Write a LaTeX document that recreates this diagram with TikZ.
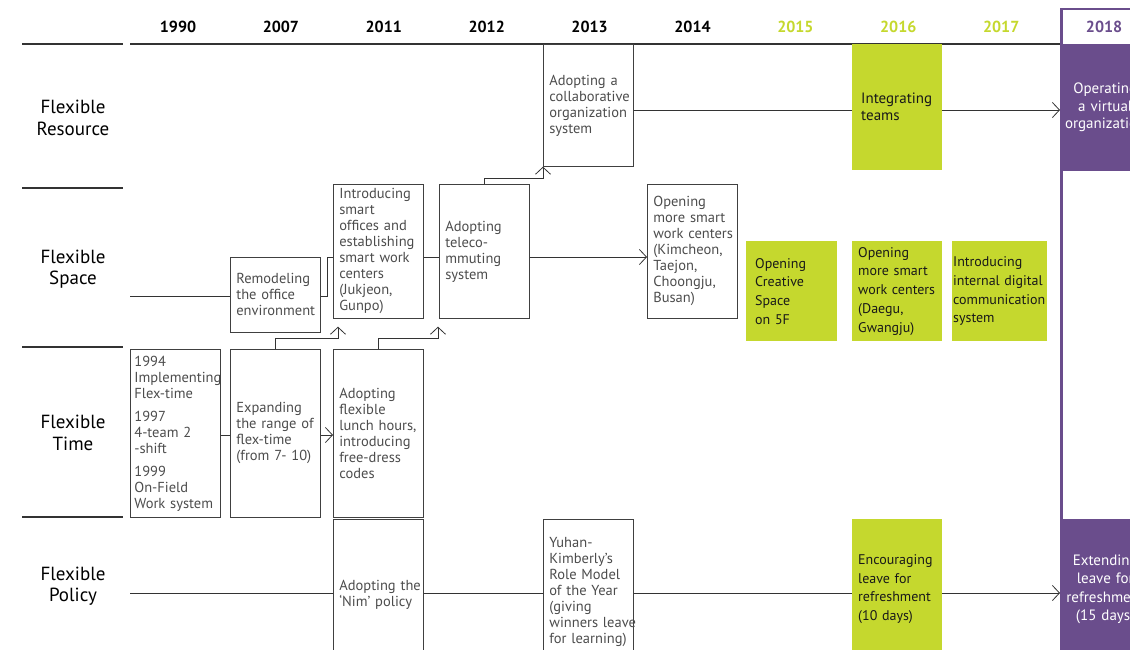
\documentclass[tikz,border=0pt]{standalone}
\usepackage{fontspec}
\setmainfont{PT Sans}
\usetikzlibrary{arrows.meta,calc,positioning}
\definecolor{ykgreen}{HTML}{C5D82E}
\definecolor{ykpurple}{HTML}{6A4D8C}
\hyphenpenalty=10000
\exhyphenpenalty=10000

\begin{document}
\begin{tikzpicture}[x=1pt,y=-1pt,
  event/.style={draw=black!75, line width=0.7pt, anchor=north west, minimum width=90pt, text width=78pt, inner xsep=6pt, align=left, font=\fontsize{14.5}{16}\selectfont, text=black!70},
  hilite/.style={fill=ykgreen, anchor=north west, minimum width=90pt, text width=84pt, inner xsep=3pt, align=left, font=\fontsize{14}{18.7}\selectfont, text=black!90},
  goal/.style={fill=ykpurple, anchor=north west, minimum width=90pt, text width=90pt, inner xsep=0pt, align=center, font=\fontsize{15}{17.5}\selectfont, text=white},
  year/.style={font=\bfseries\fontsize{16}{19}\selectfont},
  rowlabel/.style={font=\fontsize{19}{21.5}\selectfont, align=center},
  sep/.style={line width=1.2pt, black!80},
  link/.style={line width=0.8pt, black!80},
  arrow/.style={link, -{Straight Barb[length=7pt,width=15pt,line width=0.8pt]}}
]
\clip (0,0) rectangle (1130,649);

% --- header -----------------------------------------------------------------
\foreach \yr/\col [count=\i from 0] in {1990/black,2007/black,2011/black,2012/black,2013/black,2014/black,2015/ykgreen,2016/ykgreen,2017/ykgreen,2018/ykpurple}
  \node[year, text=\col] (y\yr) at (178+102.9*\i,27) {\yr};

\draw[sep] (22,44) -- (123,44);
\draw[sep] (130,44) -- (1060,44);
\draw[sep] (22,188) -- (123,188);
\draw[sep] (22,347) -- (123,347);
\draw[sep] (22,517) -- (123,517);

\node[rowlabel] (lres) at (73,118) {Flexible\\Resource};
\node[rowlabel] (lspa) at (73,269) {Flexible\\Space};
\node[rowlabel] (ltim) at (73,433) {Flexible\\Time};
\node[rowlabel] (lpol) at (73,586) {Flexible\\Policy};

% --- 2018 column -------------------------------------------------------------
\draw[ykpurple, line width=2.5pt] (1061.5,9) rectangle (1150,660);

% --- Flexible Resource ---------------------------------------------------------
\node[event, minimum height=122pt] (collab) at (543,44) {Adopting~a\\collaborative\\organization\\system};
\node[hilite, minimum height=126pt, font=\fontsize{15}{17}\selectfont] (integ) at (852,44) {\hspace*{6pt}Integrating\\\hspace*{6pt}teams};
\node[goal, minimum height=127pt] (operate) at (1060,44) {Operating\\a virtual\\organization};

\coordinate (resline) at (0,110);
\draw[link] (collab.east |- resline) -- (integ.west |- resline);
\draw[arrow] (integ.east |- resline) -- (operate.west |- resline);

% --- Flexible Space ----------------------------------------------------------
\node[event, minimum height=75pt] (remodel) at (230,257) {Remodeling\\the~office\\environment};
\node[event, minimum height=134pt] (office) at (333,184) {Introducing\\smart\\offices~and\\establishing\\smart~work\\centers\\(Jukjeon,\\Gunpo)};
\node[event, minimum height=134pt] (telecom) at (439,184) {Adopting\\teleco-\\mmuting\\system};
\node[event, minimum height=134pt] (kimch) at (647,184) {Opening\\more~smart\\work~centers\\(Kimcheon,\\Taejon,\\Choongju,\\Busan)\\[12pt]};
\node[hilite, minimum width=91pt, text width=85pt, minimum height=100pt] (creative) at (746,241) {\hspace*{6pt}Opening\\\hspace*{6pt}Creative\\\hspace*{6pt}Space\\\hspace*{6pt}on 5F};
\node[hilite, minimum height=100pt] (daegu) at (852,241) {\hspace*{3pt}Opening\\\hspace*{3pt}more~smart\\\hspace*{3pt}work~centers\\\hspace*{3pt}(Daegu,\\\hspace*{3pt}Gwangju)};
\node[hilite, minimum width=95pt, text width=93pt, inner xsep=1pt, minimum height=100pt] (digital) at (952,241) {Introducing\\internal~digital\\communication\\system};

\coordinate (spstart) at (130,296);
\coordinate (spline) at (0,257);
\draw[link] (spstart) -- (remodel.west |- spstart);
\draw[link] (remodel.east |- spstart) -- ++(7,0) |- (office.west |- spline);
\draw[link] (office.east |- spline) -- (telecom.west |- spline);
\draw[arrow] (telecom.east |- spline) -- (kimch.west |- spline);

% --- Flexible Time -----------------------------------------------------------
\node[event, inner xsep=4pt, text width=82pt, minimum height=168pt] (flex) at (130,349) {1994\\Implementing\\Flex-time\\[7pt]1997\\4-team~2\\-shift\\[7pt]1999\\On-Field\\Work~system};
\node[event, minimum height=168pt] (expand) at (230,349) {Expanding\\the~range~of\\flex-time\\(from~7-~10)};
\node[event, minimum height=168pt] (lunch) at (333,349) {Adopting\\flexible\\lunch~hours,\\introducing\\free-dress\\codes};

\coordinate (tmline) at (0,435);
\draw[link] (flex.east |- tmline) -- (expand.west |- tmline);
\draw[arrow] (expand.east |- tmline) -- (lunch.west |- tmline);

% time -> space, space -> resource
\draw[arrow] (expand.north) -- ++(0,-11) -| ([xshift=5pt,yshift=-8pt]office.south west);
\draw[arrow] (lunch.north) -- ++(0,-11) -| ([xshift=-1pt,yshift=-8pt]telecom.south west);
\draw[arrow] (telecom.north) -- ++(0,-6) -| (collab.south west);

% --- Flexible Policy ---------------------------------------------------------
\node[event, minimum height=150pt] (nim) at (333,519) {Adopting~the\\‘Nim’~policy};
\node[event, minimum height=145pt] (yuhan) at (543,519) {Yuhan-\\Kimberly’s\\Role~Model\\of~the~Year\\(giving\\winners~leave\\for~learning)};
\node[hilite, minimum height=140pt] (encour) at (852,519) {\hspace*{3pt}Encouraging\\\hspace*{3pt}leave~for\\\hspace*{3pt}refreshment\\\hspace*{3pt}(10~days)};
\node[goal, minimum height=140pt, font=\fontsize{15}{18.5}\selectfont] (extend) at (1060,519) {Extending\\leave for\\refreshment\\(15 days)};

\coordinate (plstart) at (130,593);
\draw[link] (plstart) -- (nim.west |- plstart);
\draw[link] (nim.east |- plstart) -- (yuhan.west |- plstart);
\draw[link] (yuhan.east |- plstart) -- (encour.west |- plstart);
\draw[arrow] (encour.east |- plstart) -- (extend.west |- plstart);

\end{tikzpicture}
\end{document}
